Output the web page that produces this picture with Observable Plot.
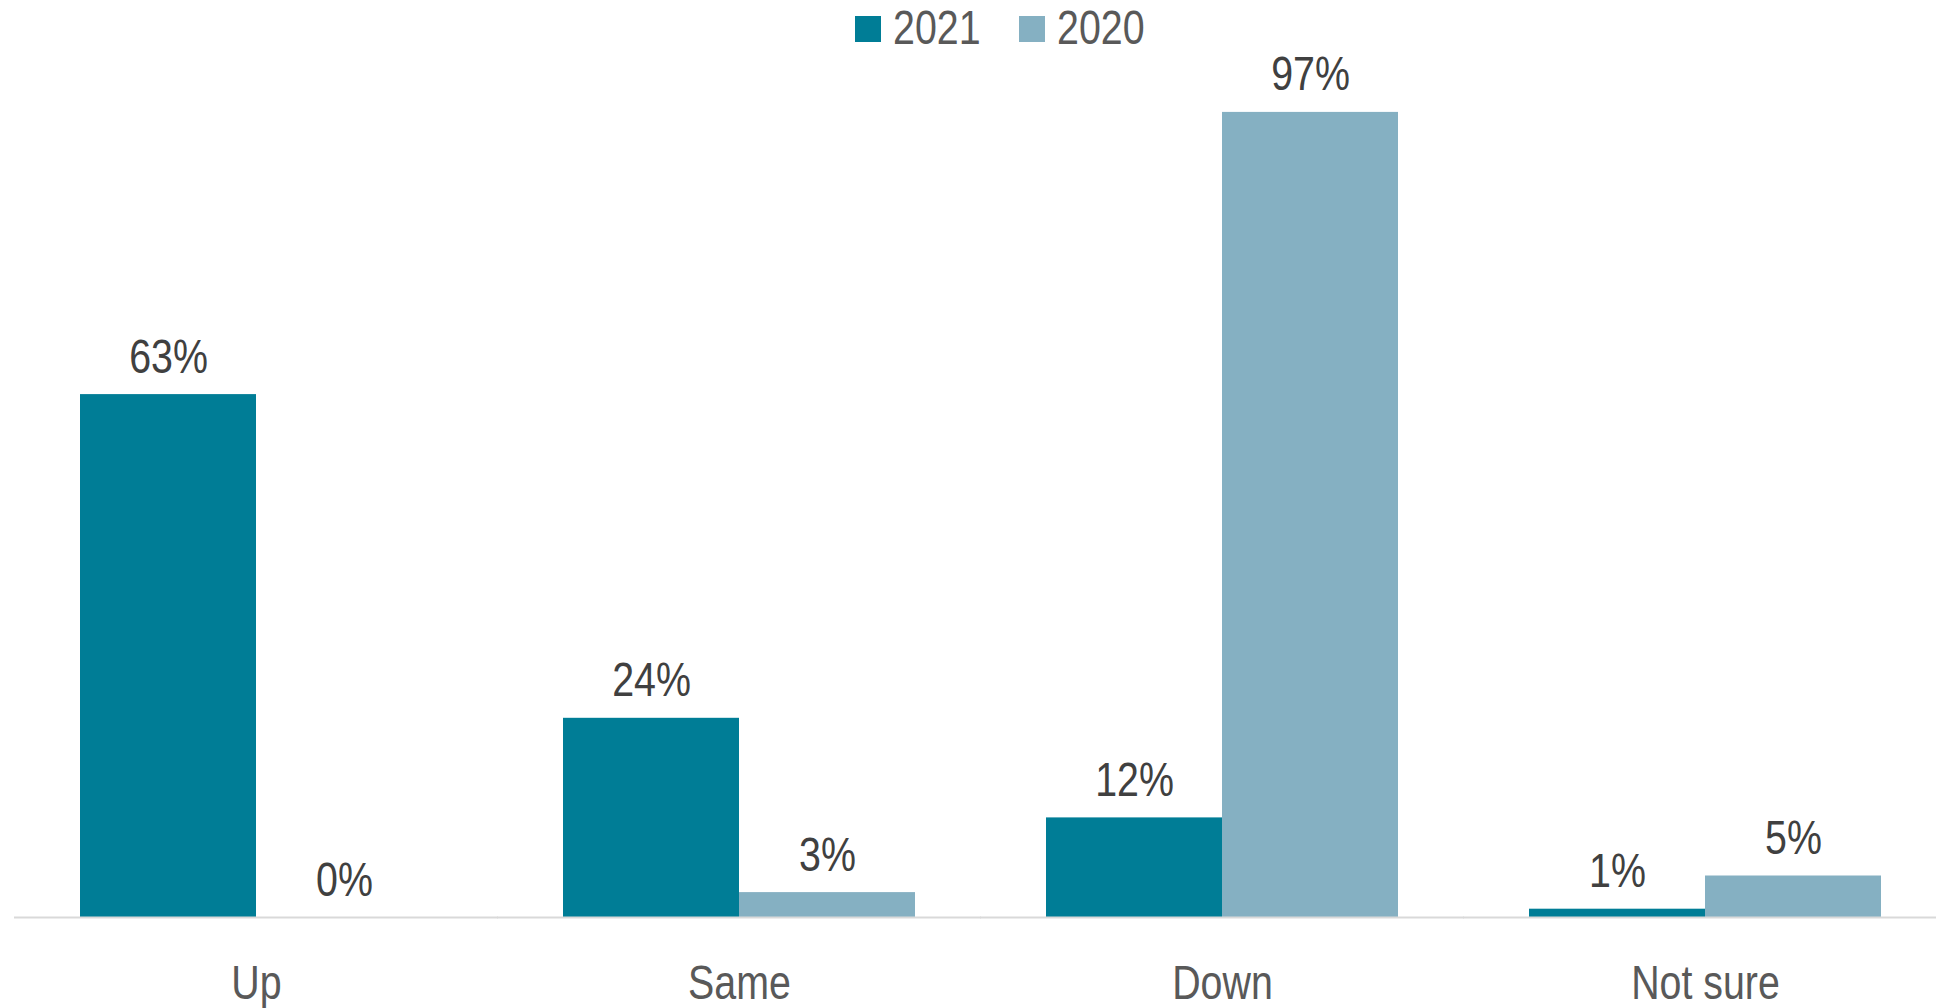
<!DOCTYPE html>
<html><head><meta charset="utf-8">
<script src="https://cdn.jsdelivr.net/npm/d3@7"></script>
<script src="https://cdn.jsdelivr.net/npm/@observablehq/plot@0.6"></script>
<style>
body{margin:0;background:#fff;}
#wrap{position:relative;width:1936px;height:1008px;overflow:hidden;}
#chart{position:absolute;left:0;top:0;}
#legend{position:absolute;left:855px;top:0;height:55px;display:flex;align-items:center;
  font-family:"Liberation Sans Narrow","Arial Narrow","Liberation Sans",sans-serif;font-size:48px;color:#595959;}
#legend .item{display:flex;align-items:center;margin-right:46px;}
#legend .sw{width:26px;height:26px;margin-right:12px;margin-top:3px;}
#legend .lab{display:inline-block;width:80px;white-space:nowrap;transform:scaleX(0.82);transform-origin:left center;}
</style></head><body>
<div id="wrap"><div id="chart"></div><div id="legend"></div></div>
<script>
const categories = ["Up", "Same", "Down", "Not sure"];
const years = ["2021", "2020"];
const values2021 = [63, 24, 12, 1];
const values2020 = [0, 3, 97, 5];
const colors = ["#007D96", "#85B0C2"];

const data = categories.flatMap((c, i) => [
  {category: c, year: "2021", value: values2021[i]},
  {category: c, year: "2020", value: values2020[i]}
]);

const font = '"Liberation Sans Narrow","Arial Narrow","Liberation Sans",sans-serif';

const chart = Plot.plot({
  width: 1936,
  height: 1008,
  marginTop: 87,
  marginBottom: 91,
  marginLeft: 15,
  marginRight: 0,
  style: {fontFamily: font, fontSize: "48px", color: "#595959", background: "#fff", overflow: "visible"},
  fx: {domain: categories, range: [15, 1947], paddingInner: 0.271, paddingOuter: 0.1355, label: null},
  x: {domain: years, padding: 0, axis: null},
  y: {domain: [0, 100], axis: null},
  color: {domain: years, range: colors},
  marks: [
    Plot.barY(data, {fx: "category", x: "year", y: "value", fill: "year"}),
    Plot.ruleY([0], {stroke: "#D9D9D9", strokeWidth: 2, insetLeft: -66, insetRight: -66}),
    Plot.text(data, {fx: "category", x: "year", y: "value", text: d => d.value + "%",
      lineAnchor: "bottom", dy: -22, fill: "#404040", fontSize: 48, fontFamily: font}),
    Plot.axisFx({anchor: "bottom", tickSize: 0, tickPadding: 47, fontSize: 48, fontFamily: font, fill: "#595959", label: null})
  ]
});
document.getElementById("chart").appendChild(chart);

// condense the text horizontally around its own centre (narrow typeface look)
chart.querySelectorAll("text").forEach(t => {
  const b = t.getBBox();
  const cx = b.x + b.width / 2;
  const prev = t.getAttribute("transform") || "";
  t.setAttribute("transform", `${prev} translate(${cx},0) scale(0.82,1) translate(${-cx},0)`);
});

const legend = d3.select("#legend");
years.forEach((y, i) => {
  const it = legend.append("div").attr("class", "item");
  it.append("div").attr("class", "sw").style("background", colors[i]);
  it.append("span").attr("class", "lab").text(y);
});
</script>
</body></html>
